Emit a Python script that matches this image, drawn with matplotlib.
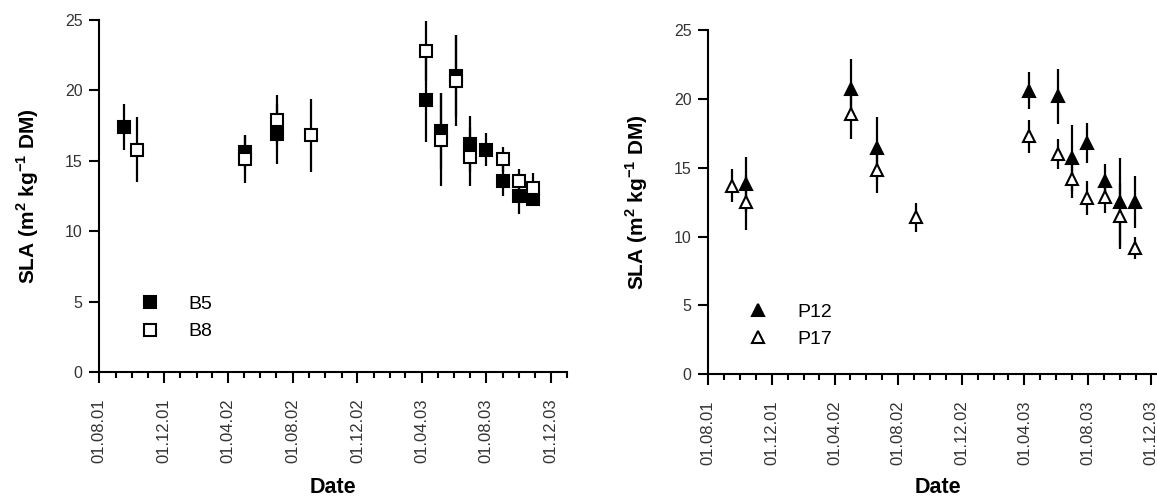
import numpy as np
import pandas as pd
import matplotlib
matplotlib.use('Agg')
import matplotlib.pyplot as plt
import matplotlib.dates as mdates
from matplotlib.lines import Line2D

plt.rcParams['font.family'] = ['Liberation Sans', 'DejaVu Sans']
plt.rcParams['mathtext.fontset'] = 'custom'
plt.rcParams['mathtext.rm'] = 'Liberation Sans'
plt.rcParams['mathtext.bf'] = 'Liberation Sans:bold'

# left panel
b5_dates = ['2001-09-17', '2002-05-03', '2002-07-03', '2003-04-09', '2003-05-08', '2003-06-05',
            '2003-07-01', '2003-08-01', '2003-09-01', '2003-10-02', '2003-10-29']
b5_mean = [17.4, 15.6, 16.9, 19.3, 17.1, 21.0, 16.2, 15.8, 13.6, 12.5, 12.3]
b5_sd = [1.6, 1.2, 2.1, 3.0, 2.7, 2.9, 2.0, 1.2, 1.1, 1.3, 0.5]

b8_dates = ['2001-10-11', '2002-05-03', '2002-07-03', '2002-09-04', '2003-04-09', '2003-05-08',
            '2003-06-05', '2003-07-01', '2003-09-01', '2003-10-02', '2003-10-29']
b8_mean = [15.8, 15.1, 17.9, 16.8, 22.8, 16.5, 20.7, 15.3, 15.1, 13.6, 13.1]
b8_sd = [2.3, 1.7, 1.8, 2.6, 2.1, 3.3, 3.2, 2.1, 0.9, 0.8, 1.0]

# right panel
p12_dates = ['2001-10-12', '2002-05-03', '2002-06-21', '2003-04-09', '2003-06-04', '2003-07-01',
             '2003-07-31', '2003-09-03', '2003-10-01', '2003-10-30']
p12_mean = [13.8, 20.7, 16.4, 20.6, 20.2, 15.7, 16.8, 14.0, 12.5, 12.5]
p12_sd = [2.0, 2.2, 2.3, 1.35, 2.0, 2.4, 1.45, 1.3, 3.2, 1.9]

p17_dates = ['2001-09-16', '2001-10-12', '2002-05-03', '2002-06-21', '2002-09-04', '2003-04-09',
             '2003-06-04', '2003-07-01', '2003-07-31', '2003-09-03', '2003-10-01', '2003-10-30']
p17_mean = [13.7, 12.5, 18.9, 14.8, 11.4, 17.3, 16.0, 14.2, 12.8, 12.9, 11.5, 9.2]
p17_sd = [1.2, 2.0, 1.8, 1.6, 1.05, 1.2, 1.1, 1.4, 1.2, 1.2, 2.4, 0.8]

ylabel = r'SLA (m$^{\mathbf{2}}$ kg$^{\mathbf{-1}}$ DM)'
tick_col = '#333333'

fig = plt.figure(figsize=(11.57, 5.0), dpi=100)
ax1 = fig.add_axes([0.0858, 0.256, 0.4046, 0.704])
ax2 = fig.add_axes([0.6122, 0.2514, 0.3968, 0.6886])


def draw_series(ax, dates, mean, sd, marker, face, ms):
    x = pd.to_datetime(dates)
    ax.errorbar(x, mean, yerr=sd, fmt='none', ecolor='black', elinewidth=1.6, capsize=0, zorder=2)
    ax.plot(x, mean, ls='none', marker=marker, markersize=ms, markerfacecolor=face,
            markeredgecolor='black', markeredgewidth=1.5, zorder=3)


def style_axes(ax, xpad):
    ax.set_xlim(pd.Timestamp('2001-08-01'), pd.Timestamp('2004-01-01'))
    ax.set_ylim(0, 25)
    ax.set_yticks([0, 5, 10, 15, 20, 25])
    ax.xaxis.set_major_locator(mdates.MonthLocator(bymonth=[4, 8, 12]))
    ax.xaxis.set_minor_locator(mdates.MonthLocator())
    ax.xaxis.set_major_formatter(mdates.DateFormatter('%d.%m.%y'))
    for s in ['top', 'right']:
        ax.spines[s].set_visible(False)
    for s in ['left', 'bottom']:
        ax.spines[s].set_linewidth(1.5)
    ax.tick_params(axis='x', which='major', length=8, width=1.5, pad=11,
                   labelsize=12, labelcolor=tick_col, rotation=90)
    ax.tick_params(axis='x', which='minor', length=4.5, width=1.5)
    ax.tick_params(axis='y', length=7, width=1.5, pad=5, labelsize=11.5, labelcolor=tick_col)
    ax.set_xlabel('Date', fontsize=15.5, fontweight='bold', labelpad=xpad)
    ax.set_ylabel(ylabel, fontsize=15, fontweight='bold', labelpad=17)


draw_series(ax1, b5_dates, b5_mean, b5_sd, 's', 'black', 9)
draw_series(ax1, b8_dates, b8_mean, b8_sd, 's', 'white', 9)
style_axes(ax1, 10)
h1 = [Line2D([], [], ls='none', marker='s', markersize=9, markerfacecolor='black',
             markeredgecolor='black', markeredgewidth=1.5),
      Line2D([], [], ls='none', marker='s', markersize=9, markerfacecolor='white',
             markeredgecolor='black', markeredgewidth=1.5)]
ax1.legend(h1, ['B5', 'B8'], loc='lower left', bbox_to_anchor=(0.05, 0.04), frameon=False,
           fontsize=14, handlelength=1.0, handletextpad=1.5, labelspacing=0.5)

draw_series(ax2, p12_dates, p12_mean, p12_sd, '^', 'black', 9)
draw_series(ax2, p17_dates, p17_mean, p17_sd, '^', 'white', 9)
style_axes(ax2, 8)
h2 = [Line2D([], [], ls='none', marker='^', markersize=9, markerfacecolor='black',
             markeredgecolor='black', markeredgewidth=1.5),
      Line2D([], [], ls='none', marker='^', markersize=9, markerfacecolor='white',
             markeredgecolor='black', markeredgewidth=1.5)]
ax2.legend(h2, ['P12', 'P17'], loc='lower left', bbox_to_anchor=(0.05, 0.025), frameon=False,
           fontsize=14, handlelength=1.0, handletextpad=1.5, labelspacing=0.5)

fig.savefig('out.png', dpi=100)
